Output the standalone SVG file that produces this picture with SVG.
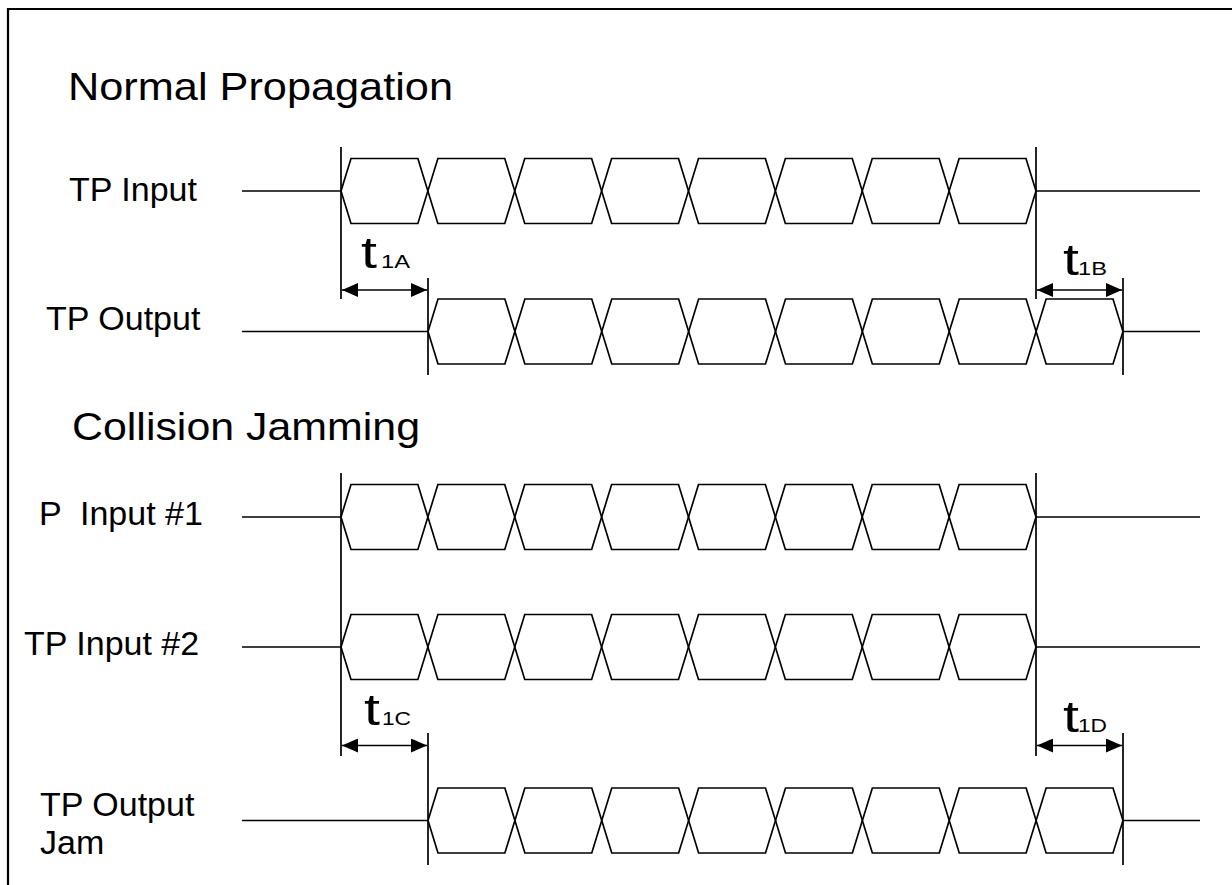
<svg xmlns="http://www.w3.org/2000/svg" width="1232" height="885" viewBox="0 0 1232 885">
<style>
  .ln{stroke:#000;stroke-width:1.7;fill:none}
  .frame{stroke:#000;stroke-width:2.2;fill:none}
  .lbl{font-family:"Liberation Sans",Arial,sans-serif;font-size:34px;fill:#000;white-space:pre}
  .ttl{font-family:"Liberation Sans",Arial,sans-serif;font-size:39px;fill:#000}
  .t{font-family:"Liberation Sans",Arial,sans-serif;font-size:44px;fill:#000}
  .sub{font-family:"Liberation Sans",Arial,sans-serif;font-size:18px;fill:#000}
  .dim{stroke:#000;stroke-width:1.7;fill:none;marker-start:url(#ah);marker-end:url(#ah)}
</style>
<defs>
  <marker id="ah" viewBox="0 0 16 14" refX="16" refY="7" markerWidth="16" markerHeight="14" markerUnits="userSpaceOnUse" orient="auto-start-reverse">
    <path d="M0,0 L16,7 L0,14 z" fill="#000"/>
  </marker>
  <g id="wave">
    <path class="ln" d="M0,0 L10,-32.5 L76.875,-32.5 L96.875,32.5 L163.75,32.5 L183.75,-32.5 L250.625,-32.5 L270.625,32.5 L337.5,32.5 L357.5,-32.5 L424.375,-32.5 L444.375,32.5 L511.25,32.5 L531.25,-32.5 L598.125,-32.5 L618.125,32.5 L685,32.5 L695,0"/>
    <path class="ln" d="M0,0 L10,32.5 L76.875,32.5 L96.875,-32.5 L163.75,-32.5 L183.75,32.5 L250.625,32.5 L270.625,-32.5 L337.5,-32.5 L357.5,32.5 L424.375,32.5 L444.375,-32.5 L511.25,-32.5 L531.25,32.5 L598.125,32.5 L618.125,-32.5 L685,-32.5 L695,0"/>
  </g>
</defs>
<rect width="1232" height="885" fill="#fff"/>
<path class="frame" d="M8,885 L8,9 L1232,9"/>

<g id="title-normal"><text class="ttl" x="68" y="99.5" textLength="385" lengthAdjust="spacingAndGlyphs">Normal Propagation</text></g>
<g id="title-collision"><text class="ttl" x="72" y="439.5" textLength="348" lengthAdjust="spacingAndGlyphs">Collision Jamming</text></g>

<g id="tp-input">
  <text class="lbl" x="69" y="201">TP Input</text>
  <path class="ln" d="M242,191 H341 M1036,191 H1200"/>
  <use href="#wave" x="341" y="191"/>
</g>
<g id="tp-output">
  <text class="lbl" x="46" y="330">TP Output</text>
  <path class="ln" d="M242,331.5 H428 M1123,331.5 H1200"/>
  <use href="#wave" x="428" y="331.5"/>
</g>
<g id="p-input-1">
  <text class="lbl" x="39" y="525">P  Input #1</text>
  <path class="ln" d="M242,517 H341 M1036,517 H1200"/>
  <use href="#wave" x="341" y="517"/>
</g>
<g id="tp-input-2">
  <text class="lbl" x="24" y="655">TP Input #2</text>
  <path class="ln" d="M242,647 H341 M1036,647 H1200"/>
  <use href="#wave" x="341" y="647"/>
</g>
<g id="tp-output-jam">
  <text class="lbl" x="40" y="816">TP Output</text>
  <text class="lbl" x="40" y="854">Jam</text>
  <path class="ln" d="M242,820.5 H428 M1123,820.5 H1200"/>
  <use href="#wave" x="428" y="820.5"/>
</g>

<g id="connectors">
  <path class="ln" d="M341,147 V299 M1036,147 V299 M428,278 V375 M1123,278 V375"/>
  <path class="ln" d="M341,473 V756 M1036,473 V756 M428,733 V865 M1123,733 V865"/>
  <path class="dim" d="M342,290 H427"/>
  <path class="dim" d="M1037,290 H1122"/>
  <path class="dim" d="M342,745.5 H427"/>
  <path class="dim" d="M1037,745.5 H1122"/>
</g>

<g id="label-t1A">
  <text class="t" x="361" y="268" textLength="16" lengthAdjust="spacingAndGlyphs">t</text>
  <text class="sub" x="381" y="268" textLength="29" lengthAdjust="spacingAndGlyphs">1A</text>
</g>
<g id="label-t1B">
  <text class="t" x="1063" y="275" textLength="16" lengthAdjust="spacingAndGlyphs">t</text>
  <text class="sub" x="1078" y="275" textLength="29" lengthAdjust="spacingAndGlyphs">1B</text>
</g>
<g id="label-t1C">
  <text class="t" x="364" y="725" textLength="16" lengthAdjust="spacingAndGlyphs">t</text>
  <text class="sub" x="382" y="725" textLength="29" lengthAdjust="spacingAndGlyphs">1C</text>
</g>
<g id="label-t1D">
  <text class="t" x="1063" y="732" textLength="16" lengthAdjust="spacingAndGlyphs">t</text>
  <text class="sub" x="1078" y="732" textLength="29" lengthAdjust="spacingAndGlyphs">1D</text>
</g>
</svg>
